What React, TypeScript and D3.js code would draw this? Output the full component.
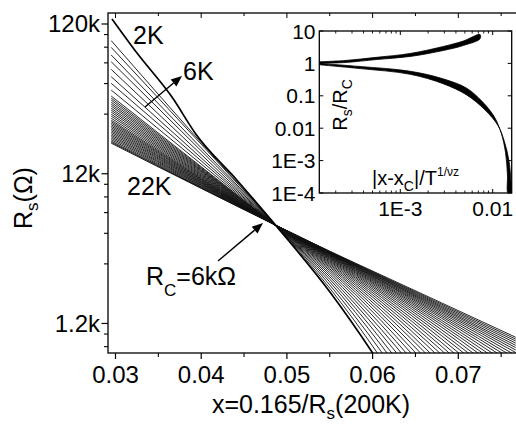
import React, { useEffect } from "react";
import * as d3 from "d3";

// ---------- main panel data ----------
// x positions of the sampled columns
const xGrid = [0.0295, 0.04, 0.049, 0.055, 0.061, 0.068, 0.0767];
// log10(Rs / kΩ) for each curve (low T -> high T), one array per x column
const lgR_0295 = [1.968, 1.923, 1.872, 1.827, 1.776, 1.727, 1.683, 1.638, 1.598, 1.584, 1.571, 1.557, 1.544, 1.531, 1.517, 1.504, 1.491, 1.477, 1.464, 1.45, 1.437, 1.427, 1.417, 1.407, 1.397, 1.387, 1.377, 1.367, 1.357, 1.347, 1.337, 1.327, 1.317, 1.307, 1.297, 1.29, 1.283];
const lgR_040 = [1.286, 1.276, 1.252, 1.232, 1.208, 1.185, 1.165, 1.144, 1.126, 1.12, 1.113, 1.107, 1.101, 1.095, 1.089, 1.082, 1.076, 1.07, 1.064, 1.058, 1.052, 1.047, 1.042, 1.038, 1.033, 1.028, 1.024, 1.019, 1.015, 1.01, 1.005, 1.001, 0.996, 0.991, 0.987, 0.984, 0.981];
const lgR_049 = [0.716, 0.717, 0.717, 0.718, 0.718, 0.719, 0.719, 0.72, 0.72, 0.721, 0.721, 0.721, 0.722, 0.722, 0.722, 0.722, 0.723, 0.723, 0.723, 0.723, 0.724, 0.724, 0.724, 0.724, 0.725, 0.725, 0.725, 0.725, 0.725, 0.726, 0.726, 0.726, 0.726, 0.726, 0.727, 0.727, 0.727];
const lgR_055 = [0.315, 0.337, 0.357, 0.375, 0.391, 0.406, 0.42, 0.433, 0.444, 0.455, 0.464, 0.473, 0.481, 0.489, 0.496, 0.502, 0.508, 0.513, 0.518, 0.522, 0.526, 0.53, 0.533, 0.536, 0.539, 0.542, 0.544, 0.546, 0.548, 0.55, 0.552, 0.553, 0.555, 0.556, 0.558, 0.56, 0.562];
const lgR_061 = [-0.155, -0.108, -0.066, -0.028, 0.008, 0.04, 0.07, 0.098, 0.123, 0.146, 0.168, 0.188, 0.207, 0.224, 0.24, 0.255, 0.268, 0.281, 0.292, 0.303, 0.313, 0.322, 0.33, 0.338, 0.345, 0.351, 0.358, 0.363, 0.368, 0.373, 0.378, 0.382, 0.386, 0.39, 0.394, 0.398, 0.403];
const lgR_068 = [-0.784, -0.706, -0.635, -0.569, -0.508, -0.452, -0.401, -0.352, -0.308, -0.266, -0.227, -0.192, -0.158, -0.127, -0.098, -0.071, -0.046, -0.022, 0.0, 0.02, 0.039, 0.057, 0.073, 0.088, 0.102, 0.116, 0.128, 0.139, 0.15, 0.16, 0.169, 0.178, 0.186, 0.194, 0.202, 0.21, 0.218];
const lgR_0767 = [-1.689, -1.566, -1.453, -1.349, -1.252, -1.162, -1.078, -0.999, -0.926, -0.858, -0.794, -0.734, -0.678, -0.625, -0.575, -0.529, -0.486, -0.445, -0.406, -0.37, -0.337, -0.305, -0.276, -0.248, -0.222, -0.198, -0.175, -0.154, -0.134, -0.115, -0.098, -0.082, -0.067, -0.052, -0.038, -0.025, -0.013];
// the 2K curve (lowest temperature)
const x2K = [0.02959, 0.03251, 0.03659, 0.03939, 0.04418, 0.049, 0.055, 0.061, 0.068];
const lgR2K = [2.113, 1.885, 1.591, 1.343, 1.036, 0.714, 0.291, -0.205, -0.87];

const yTicksMajor = [1200, 12000, 120000];
const yTickLabels = ["1.2k", "12k", "120k"];
const yTicksMinor = [840, 1020, 3000, 4800, 6600, 8400, 10200, 30000, 48000, 66000, 84000, 102000];
const xTicksMajor = [0.03, 0.04, 0.05, 0.06, 0.07];
const xTickLabels = ["0.03", "0.04", "0.05", "0.06", "0.07"];
const xTicksMinor = [0.035, 0.045, 0.055, 0.065, 0.075];

// ---------- inset data (log10 values) ----------
const insUpLgX = [-3.877, -3.598, -3.255, -2.895, -2.535, -2.318, -2.137];
const insUpLgYTop = [0.049, 0.09, 0.188, 0.306, 0.522, 0.691, 0.892];
const insUpLgYBot = [0.0, 0.028, 0.12, 0.213, 0.398, 0.552, 0.76];
const insLoLgXIn = [-3.877, -3.436, -2.895, -2.538, -2.281, -2.116, -1.986, -1.91, -1.861, -1.84, -1.834];
const insLoLgYIn = [0.0, -0.096, -0.241, -0.475, -0.765, -1.17, -1.63, -2.13, -2.75, -3.444, -4.0];
const insLoLgXOut = [-3.877, -3.436, -2.895, -2.538, -2.281, -2.082, -1.94, -1.872, -1.824, -1.803, -1.799];
const insLoLgYOut = [-0.043, -0.16, -0.335, -0.625, -0.975, -1.44, -1.93, -2.42, -3.0, -3.61, -4.0];

const insYTicks = [1e-4, 1e-3, 0.01, 0.1, 1, 10];
const insYLabels = ["1E-4", "1E-3", "0.01", "0.1", "1", "10"];
const insXTicks = [1e-3, 0.01];
const insXLabels = ["1E-3", "0.01"];

const FONT = "'Liberation Sans', Arial, Helvetica, sans-serif";

function Arrow({ x1, y1, x2, y2 }: { x1: number; y1: number; x2: number; y2: number }) {
  const dx = x2 - x1, dy = y2 - y1;
  const L = Math.hypot(dx, dy);
  const ux = dx / L, uy = dy / L;
  const hl = 11, hw = 4.5;
  const bx = x2 - ux * hl, by = y2 - uy * hl;
  const px = -uy, py = ux;
  return (
    <g>
      <line x1={x1} y1={y1} x2={bx} y2={by} stroke="#000" strokeWidth={1.4} />
      <polygon points={`${x2},${y2} ${bx + px * hw},${by + py * hw} ${bx - px * hw},${by - py * hw}`} fill="#000" />
    </g>
  );
}

export default function App() {
  useEffect(() => {
    document.body.style.margin = "0";
  }, []);

  const L = 108, T = 13, R = 516, B = 353;
  const x = d3.scaleLinear().domain([0.029125, 0.076733]).range([L, R]);
  const y = d3.scaleLog().domain([762, 142100]).range([B, T]);

  const line = d3
    .line<[number, number]>()
    .x((d) => x(d[0]))
    .y((d) => y(1000 * Math.pow(10, d[1])))
    .curve(d3.curveMonotoneX);

  const cols = [lgR_0295, lgR_040, lgR_049, lgR_055, lgR_061, lgR_068, lgR_0767];
  const curves: [number, number][][] = lgR_0295.map((_, i) =>
    xGrid.map((xv, c) => [xv, cols[c][i]] as [number, number])
  );
  const curve2K: [number, number][] = x2K.map((xv, i) => [xv, lgR2K[i]]);

  // inset scales
  const iL = 319.3, iT = 31, iR = 511.7, iB = 193;
  const ix = d3.scaleLog().domain([Math.pow(10, -3.877), Math.pow(10, -1.794)]).range([iL, iR]);
  const iy = d3.scaleLog().domain([1e-4, 10]).range([iB, iT]);
  const ring = d3
    .line<[number, number]>()
    .x((d) => ix(Math.pow(10, d[0])))
    .y((d) => iy(Math.pow(10, d[1])))
    .curve(d3.curveCatmullRom);
  const upRing: [number, number][] = [
    ...insUpLgX.map((v, i) => [v, insUpLgYTop[i]] as [number, number]),
    ...insUpLgX.map((v, i) => [v, insUpLgYBot[i]] as [number, number]).reverse(),
  ];
  const loRing: [number, number][] = [
    ...insLoLgXIn.map((v, i) => [v, insLoLgYIn[i]] as [number, number]),
    ...insLoLgXOut.map((v, i) => [v, insLoLgYOut[i]] as [number, number]).reverse(),
  ];

  // inset minor x ticks (log 2..9)
  const insXMinor: number[] = [];
  for (let e = -4; e <= -2; e++) {
    for (let m = 2; m <= 9; m++) {
      const v = m * Math.pow(10, e);
      if (ix(v) > iL + 0.5 && ix(v) < iR - 0.5) insXMinor.push(v);
    }
  }

  return (
    <svg width={516} height={424} style={{ position: "absolute", left: 0, top: 0, background: "#fff" }} fontFamily={FONT}>
      <defs>
        <clipPath id="mainClip">
          <rect x={L} y={T} width={R - L} height={B - T} />
        </clipPath>
        <clipPath id="insClip">
          <rect x={iL} y={iT} width={iR - iL} height={iB - iT} />
        </clipPath>
      </defs>
      <rect x={0} y={0} width={516} height={424} fill="#fff" />

      {/* curves */}
      <g clipPath="url(#mainClip)">
        {curves.map((c, i) => (
          <path key={i} d={line(c) || ""} fill="none" stroke="#111" strokeWidth={0.9} />
        ))}
        <path d={line(curve2K) || ""} fill="none" stroke="#000" strokeWidth={1.7} />
      </g>

      {/* main frame */}
      <rect x={L} y={T} width={R - L + 2} height={B - T} fill="none" stroke="#000" strokeWidth={1.3} />

      {/* y ticks */}
      {yTicksMajor.map((v, i) => (
        <g key={"ym" + i}>
          <line x1={L - 6.5} x2={L} y1={y(v)} y2={y(v)} stroke="#000" strokeWidth={1.2} />
          <text x={100} y={y(v) + 8.5} fontSize={24} textAnchor="end">{yTickLabels[i]}</text>
        </g>
      ))}
      {yTicksMinor.map((v, i) => (
        <line key={"yn" + i} x1={L - 4} x2={L} y1={y(v)} y2={y(v)} stroke="#000" strokeWidth={1.1} />
      ))}
      {/* x ticks */}
      {xTicksMajor.map((v, i) => (
        <g key={"xm" + i}>
          <line x1={x(v)} x2={x(v)} y1={B} y2={B + 6} stroke="#000" strokeWidth={1.2} />
          <line x1={x(v)} x2={x(v)} y1={T} y2={T + 5} stroke="#000" strokeWidth={1} />
          <text x={x(v)} y={383} fontSize={24} textAnchor="middle">{xTickLabels[i]}</text>
        </g>
      ))}
      {xTicksMinor.map((v, i) => (
        <g key={"xn" + i}>
          <line x1={x(v)} x2={x(v)} y1={B} y2={B + 4} stroke="#000" strokeWidth={1.1} />
          <line x1={x(v)} x2={x(v)} y1={T} y2={T + 3} stroke="#000" strokeWidth={1} />
        </g>
      ))}

      {/* axis titles */}
      <text transform="translate(32,198) rotate(-90)" fontSize={25} textAnchor="middle">
        R<tspan fontSize={17} dy={6}>s</tspan>
        <tspan dy={-6}>(Ω)</tspan>
      </text>
      <text x={311} y={413} fontSize={25} textAnchor="middle">
        x=0.165/R<tspan fontSize={17} dy={6}>s</tspan>
        <tspan dy={-6}>(200K)</tspan>
      </text>

      {/* annotations */}
      <text x={133} y={44} fontSize={25}>2K</text>
      <text x={183} y={80} fontSize={25}>6K</text>
      <text x={127} y={195} fontSize={25}>22K</text>
      <Arrow x1={145} y1={107} x2={182} y2={76} />
      <text x={146} y={285} fontSize={25}>
        R<tspan fontSize={17} dy={11}>C</tspan>
        <tspan dy={-11}>=6kΩ</tspan>
      </text>
      <Arrow x1={218} y1={261} x2={263} y2={223} />

      {/* inset */}
      <rect x={iL} y={iT} width={iR - iL} height={iB - iT} fill="#fff" />
      <g clipPath="url(#insClip)">
        <path d={(ring(upRing) || "") + "Z"} fill="#000" stroke="#000" strokeWidth={0.8} />
        <path d={(ring(loRing) || "") + "Z"} fill="#000" stroke="#000" strokeWidth={0.8} />
      </g>
      <rect x={iL} y={iT} width={iR - iL} height={iB - iT} fill="none" stroke="#000" strokeWidth={1.3} />
      {insYTicks.map((v, i) => (
        <g key={"iy" + i}>
          <line x1={iL} x2={iL + 4} y1={iy(v)} y2={iy(v)} stroke="#000" strokeWidth={1} />
          <line x1={iR - 4} x2={iR} y1={iy(v)} y2={iy(v)} stroke="#000" strokeWidth={1} />
          <text x={315.5} y={iy(v) + 7.5} fontSize={21} textAnchor="end">{insYLabels[i]}</text>
        </g>
      ))}
      {insXTicks.map((v, i) => (
        <g key={"ix" + i}>
          <line x1={ix(v)} x2={ix(v)} y1={iB - 4} y2={iB} stroke="#000" strokeWidth={1} />
          <line x1={ix(v)} x2={ix(v)} y1={iT} y2={iT + 4} stroke="#000" strokeWidth={1} />
          <text x={ix(v)} y={216} fontSize={21} textAnchor="middle">{insXLabels[i]}</text>
        </g>
      ))}
      {insXMinor.map((v, i) => (
        <g key={"ixn" + i}>
          <line x1={ix(v)} x2={ix(v)} y1={iB - 2.5} y2={iB} stroke="#000" strokeWidth={0.9} />
          <line x1={ix(v)} x2={ix(v)} y1={iT} y2={iT + 2.5} stroke="#000" strokeWidth={0.9} />
        </g>
      ))}
      <text transform="translate(347,105) rotate(-90)" fontSize={20} textAnchor="middle">
        R<tspan fontSize={14} dy={5}>s</tspan>
        <tspan dy={-5}>/R</tspan>
        <tspan fontSize={14} dy={5}>C</tspan>
      </text>
      <text x={372} y={185} fontSize={20}>
        |x-x<tspan fontSize={14} dy={6}>C</tspan>
        <tspan dy={-6}>|/T</tspan>
        <tspan fontSize={12} dy={-9}>1/νz</tspan>
      </text>
    </svg>
  );
}
